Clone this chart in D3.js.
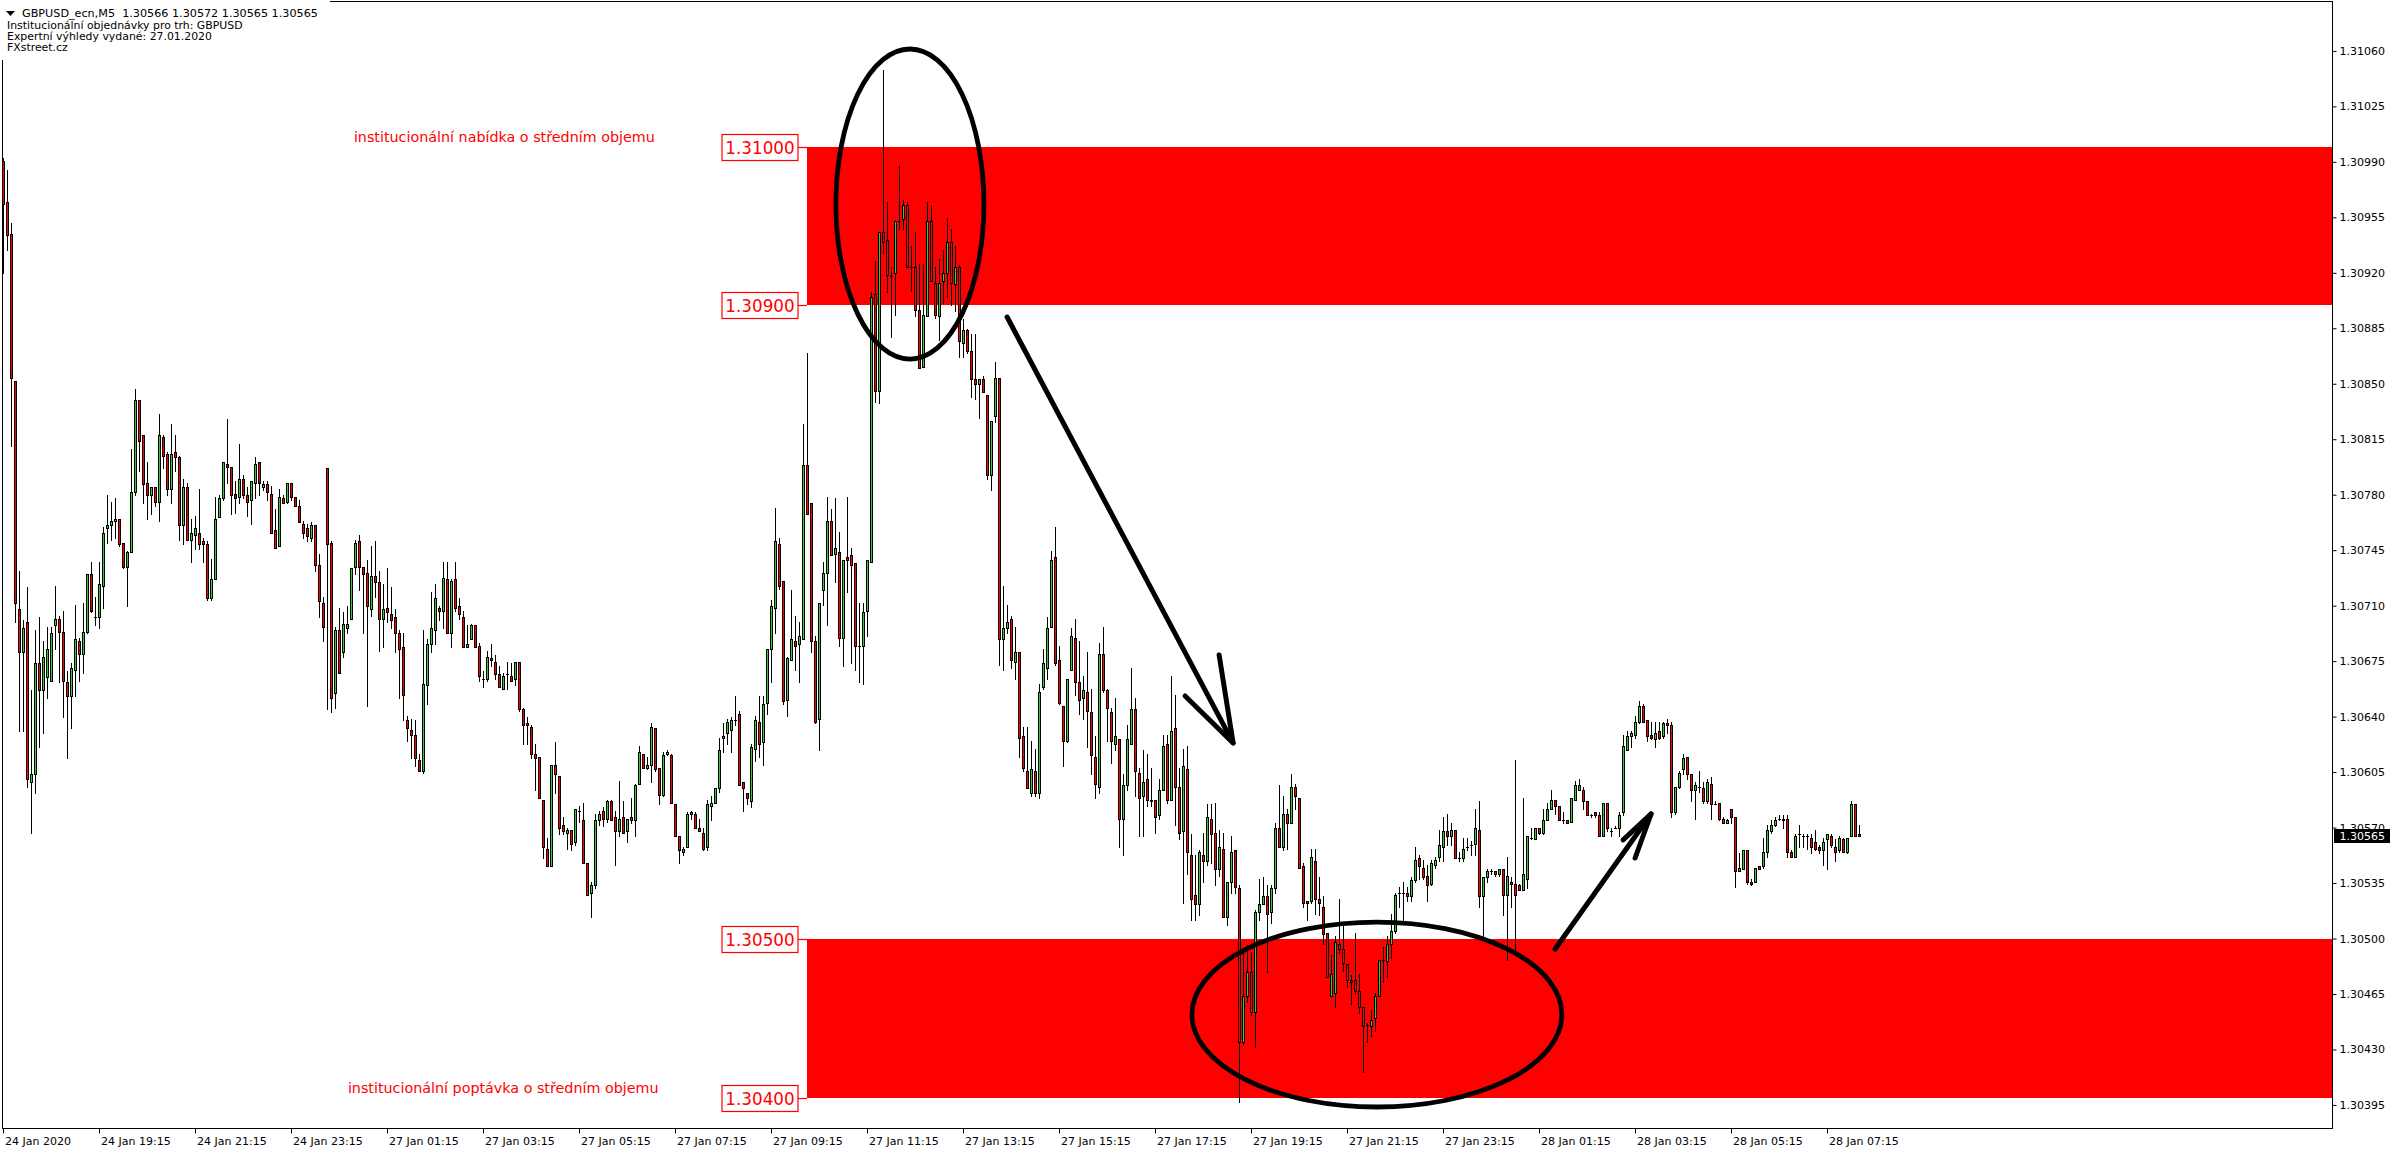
<!DOCTYPE html>
<html><head><meta charset="utf-8">
<script src="https://cdn.jsdelivr.net/npm/d3@7"></script>
<style>html,body{margin:0;padding:0;background:#fff;overflow:hidden}svg{display:block}</style>
</head><body>
<script>
// ===== DATA (GBPUSD_ecn M5) =====
const symbolTitle = "GBPUSD_ecn,M5";
const commentLines = ["Institucionální objednávky pro trh: GBPUSD", "Expertní výhledy vydané: 27.01.2020", "FXstreet.cz"];

const openP = [
1.30991,1.30965,1.30945,1.30852,1.30708,1.30681,1.30700,1.30599,1.30604,1.30674,
1.30657,1.30665,1.30663,1.30698,1.30702,1.30694,1.30662,1.30653,1.30670,1.30688,
1.30680,1.30694,1.30730,1.30703,1.30703,1.30723,1.30759,1.30761,1.30764,1.30765,
1.30750,1.30735,1.30744,1.30782,1.30840,1.30818,1.30788,1.30780,1.30785,1.30776,
1.30817,1.30806,1.30784,1.30807,1.30804,1.30761,1.30785,1.30752,1.30755,1.30756,
1.30751,1.30749,1.30715,1.30727,1.30766,1.30778,1.30800,1.30798,1.30781,1.30779,
1.30790,1.30780,1.30777,1.30788,1.30801,1.30785,1.30787,1.30781,1.30758,1.30748,
1.30778,1.30776,1.30788,1.30779,1.30773,1.30762,1.30759,1.30753,1.30761,1.30736,
1.30712,1.30797,1.30750,1.30655,1.30695,1.30681,1.30696,1.30702,1.30735,1.30751,
1.30735,1.30731,1.30708,1.30729,1.30725,1.30702,1.30709,1.30705,1.30703,1.30693,
1.30684,1.30638,1.30632,1.30629,1.30613,1.30606,1.30660,1.30686,1.30695,1.30709,
1.30707,1.30727,1.30693,1.30727,1.30710,1.30703,1.30684,1.30689,1.30698,1.30685,
1.30664,1.30664,1.30677,1.30675,1.30667,1.30658,1.30667,1.30666,1.30664,1.30675,
1.30645,1.30636,1.30634,1.30617,1.30615,1.30588,1.30557,1.30546,1.30610,1.30603,
1.30572,1.30567,1.30569,1.30561,1.30581,1.30575,1.30548,1.30529,1.30534,1.30575,
1.30581,1.30576,1.30587,1.30577,1.30568,1.30577,1.30568,1.30577,1.30575,1.30598,
1.30617,1.30608,1.30610,1.30633,1.30608,1.30591,1.30617,1.30616,1.30585,1.30565,
1.30555,1.30558,1.30579,1.30579,1.30570,1.30567,1.30558,1.30584,1.30586,1.30595,
1.30627,1.30630,1.30632,1.30638,1.30642,1.30599,1.30592,1.30587,1.30620,1.30637,
1.30624,1.30649,1.30683,1.30709,1.30749,1.30726,1.30651,1.30676,1.30688,1.30686,
1.30689,1.30799,1.30775,1.30688,1.30639,1.30720,1.30731,1.30764,1.30743,1.30744,
1.30690,1.30741,1.30742,1.30737,1.30685,1.30685,1.30707,1.30738,1.30907,1.30846,
1.30946,1.30941,1.30918,1.30920,1.30953,1.30954,1.30963,1.30924,1.30924,1.30897,
1.30861,1.30893,1.30953,1.30914,1.30893,1.30915,1.30920,1.30940,1.30913,1.30924,
1.30876,1.30884,1.30871,1.30853,1.30850,1.30853,1.30843,1.30793,1.30830,1.30854,
1.30689,1.30696,1.30702,1.30675,1.30681,1.30628,1.30606,1.30592,1.30606,1.30592,
1.30659,1.30671,1.30697,1.30741,1.30676,1.30647,1.30625,1.30670,1.30690,1.30662,
1.30652,1.30656,1.30643,1.30615,1.30596,1.30680,1.30657,1.30643,1.30623,1.30626,
1.30576,1.30597,1.30623,1.30645,1.30605,1.30590,1.30601,1.30588,1.30588,1.30578,
1.30594,1.30623,1.30588,1.30633,1.30596,1.30568,1.30607,1.30553,1.30528,1.30522,
1.30553,1.30549,1.30576,1.30567,1.30544,1.30557,1.30514,1.30536,1.30556,1.30532,
1.30435,1.30464,1.30479,1.30454,1.30517,1.30522,1.30527,1.30517,1.30532,1.30570,
1.30558,1.30579,1.30573,1.30596,1.30589,1.30546,1.30524,1.30524,1.30549,1.30525,
1.30520,1.30504,1.30464,1.30466,1.30497,1.30494,1.30484,1.30474,1.30474,1.30467,
1.30457,1.30446,1.30445,1.30450,1.30464,1.30487,1.30486,1.30497,1.30505,1.30529,
1.30529,1.30529,1.30527,1.30537,1.30551,1.30545,1.30540,1.30535,1.30547,1.30552,
1.30558,1.30568,1.30565,1.30569,1.30551,1.30551,1.30558,1.30559,1.30560,1.30569,
1.30527,1.30539,1.30543,1.30543,1.30541,1.30544,1.30528,1.30536,1.30535,1.30534,
1.30531,1.30538,1.30564,1.30563,1.30570,1.30567,1.30575,1.30582,1.30588,1.30584,
1.30575,1.30575,1.30574,1.30588,1.30594,1.30594,1.30587,1.30578,1.30580,1.30578,
1.30565,1.30586,1.30568,1.30570,1.30570,1.30580,1.30619,1.30628,1.30629,1.30637,
1.30647,1.30638,1.30629,1.30626,1.30631,1.30628,1.30636,1.30635,1.30580,1.30596,
1.30607,1.30615,1.30604,1.30594,1.30596,1.30595,1.30587,1.30598,1.30585,1.30586,
1.30576,1.30573,1.30582,1.30577,1.30543,1.30544,1.30556,1.30536,1.30536,1.30546,
1.30546,1.30555,1.30568,1.30572,1.30576,1.30576,1.30576,1.30555,1.30552,1.30566,
1.30565,1.30565,1.30564,1.30561,1.30558,1.30556,1.30563,1.30565,1.30558,1.30556,
1.30563,1.30555,1.30565,1.30585,1.30566];

const highP = [
1.30993,1.30985,1.30952,1.30852,1.30732,1.30701,1.30722,1.30657,1.30695,1.30703,
1.30688,1.30697,1.30697,1.30723,1.30704,1.30707,1.30669,1.30674,1.30711,1.30690,
1.30712,1.30730,1.30738,1.30716,1.30738,1.30760,1.30780,1.30776,1.30778,1.30765,
1.30750,1.30745,1.30809,1.30847,1.30840,1.30818,1.30801,1.30785,1.30785,1.30831,
1.30818,1.30807,1.30825,1.30818,1.30805,1.30790,1.30788,1.30765,1.30767,1.30784,
1.30753,1.30751,1.30740,1.30779,1.30780,1.30801,1.30828,1.30798,1.30789,1.30812,
1.30793,1.30785,1.30789,1.30804,1.30801,1.30789,1.30789,1.30786,1.30771,1.30784,
1.30780,1.30788,1.30788,1.30779,1.30777,1.30764,1.30762,1.30763,1.30761,1.30743,
1.30716,1.30797,1.30751,1.30697,1.30709,1.30706,1.30710,1.30734,1.30752,1.30755,
1.30735,1.30739,1.30748,1.30751,1.30732,1.30724,1.30734,1.30722,1.30708,1.30695,
1.30693,1.30641,1.30639,1.30638,1.30617,1.30695,1.30689,1.30719,1.30724,1.30710,
1.30738,1.30738,1.30727,1.30738,1.30715,1.30707,1.30698,1.30699,1.30698,1.30687,
1.30669,1.30682,1.30686,1.30679,1.30672,1.30668,1.30675,1.30674,1.30675,1.30675,
1.30646,1.30640,1.30635,1.30623,1.30615,1.30588,1.30564,1.30610,1.30624,1.30603,
1.30577,1.30570,1.30569,1.30582,1.30584,1.30586,1.30548,1.30536,1.30579,1.30581,
1.30583,1.30588,1.30588,1.30581,1.30600,1.30587,1.30576,1.30589,1.30598,1.30622,
1.30617,1.30615,1.30636,1.30633,1.30608,1.30618,1.30619,1.30617,1.30585,1.30565,
1.30558,1.30580,1.30581,1.30580,1.30576,1.30570,1.30588,1.30590,1.30595,1.30627,
1.30636,1.30639,1.30640,1.30653,1.30644,1.30599,1.30592,1.30623,1.30641,1.30653,
1.30653,1.30683,1.30714,1.30772,1.30753,1.30726,1.30678,1.30720,1.30704,1.30700,
1.30825,1.30870,1.30775,1.30691,1.30712,1.30738,1.30779,1.30771,1.30778,1.30757,
1.30739,1.30779,1.30747,1.30737,1.30712,1.30712,1.30739,1.30908,1.30928,1.30946,
1.31048,1.30965,1.30924,1.30953,1.30988,1.30966,1.30965,1.30937,1.30946,1.30926,
1.30926,1.30965,1.30963,1.30924,1.30929,1.30935,1.30955,1.30948,1.30937,1.30925,
1.30891,1.30885,1.30882,1.30882,1.30853,1.30855,1.30843,1.30827,1.30864,1.30854,
1.30723,1.30711,1.30704,1.30697,1.30681,1.30634,1.30634,1.30625,1.30620,1.30661,
1.30683,1.30703,1.30745,1.30760,1.30685,1.30647,1.30664,1.30696,1.30702,1.30688,
1.30666,1.30681,1.30658,1.30628,1.30687,1.30697,1.30658,1.30646,1.30652,1.30626,
1.30604,1.30635,1.30671,1.30652,1.30608,1.30619,1.30617,1.30608,1.30588,1.30601,
1.30629,1.30629,1.30666,1.30654,1.30608,1.30620,1.30622,1.30566,1.30553,1.30556,
1.30567,1.30585,1.30585,1.30586,1.30569,1.30567,1.30536,1.30565,1.30556,1.30534,
1.30491,1.30496,1.30492,1.30518,1.30538,1.30539,1.30534,1.30534,1.30573,1.30597,
1.30590,1.30582,1.30604,1.30598,1.30589,1.30548,1.30524,1.30557,1.30557,1.30539,
1.30527,1.30504,1.30490,1.30502,1.30525,1.30508,1.30484,1.30477,1.30504,1.30478,
1.30457,1.30447,1.30455,1.30466,1.30487,1.30495,1.30502,1.30516,1.30529,1.30533,
1.30536,1.30533,1.30539,1.30558,1.30553,1.30550,1.30547,1.30550,1.30552,1.30569,
1.30577,1.30579,1.30573,1.30569,1.30555,1.30564,1.30564,1.30562,1.30582,1.30587,
1.30539,1.30544,1.30544,1.30543,1.30544,1.30544,1.30552,1.30539,1.30613,1.30535,
1.30589,1.30565,1.30570,1.30570,1.30570,1.30582,1.30586,1.30594,1.30588,1.30584,
1.30580,1.30575,1.30589,1.30600,1.30601,1.30596,1.30587,1.30579,1.30580,1.30580,
1.30586,1.30586,1.30570,1.30571,1.30580,1.30629,1.30631,1.30631,1.30641,1.30650,
1.30648,1.30638,1.30637,1.30637,1.30637,1.30637,1.30639,1.30637,1.30596,1.30606,
1.30617,1.30615,1.30604,1.30599,1.30606,1.30599,1.30601,1.30602,1.30587,1.30586,
1.30577,1.30576,1.30582,1.30577,1.30554,1.30556,1.30556,1.30538,1.30545,1.30546,
1.30564,1.30572,1.30575,1.30577,1.30578,1.30578,1.30578,1.30556,1.30566,1.30572,
1.30566,1.30566,1.30566,1.30569,1.30559,1.30564,1.30566,1.30566,1.30563,1.30565,
1.30564,1.30564,1.30587,1.30585,1.30572];

const lowP = [
1.30920,1.30935,1.30811,1.30700,1.30631,1.30631,1.30596,1.30567,1.30592,1.30621,
1.30630,1.30652,1.30663,1.30683,1.30662,1.30640,1.30614,1.30633,1.30653,1.30663,
1.30668,1.30693,1.30706,1.30698,1.30696,1.30709,1.30750,1.30752,1.30753,1.30748,
1.30734,1.30710,1.30744,1.30780,1.30795,1.30775,1.30765,1.30768,1.30773,1.30764,
1.30797,1.30780,1.30775,1.30795,1.30752,1.30749,1.30752,1.30738,1.30746,1.30746,
1.30738,1.30714,1.30714,1.30727,1.30766,1.30777,1.30788,1.30768,1.30769,1.30775,
1.30778,1.30767,1.30762,1.30778,1.30780,1.30783,1.30777,1.30756,1.30747,1.30748,
1.30775,1.30775,1.30777,1.30773,1.30763,1.30753,1.30751,1.30751,1.30732,1.30703,
1.30688,1.30645,1.30643,1.30646,1.30668,1.30678,1.30693,1.30702,1.30730,1.30720,
1.30693,1.30647,1.30704,1.30716,1.30682,1.30684,1.30700,1.30696,1.30681,1.30652,
1.30638,1.30625,1.30614,1.30609,1.30606,1.30605,1.30648,1.30681,1.30686,1.30701,
1.30696,1.30693,1.30684,1.30707,1.30702,1.30684,1.30684,1.30689,1.30684,1.30663,
1.30659,1.30663,1.30672,1.30664,1.30659,1.30658,1.30658,1.30663,1.30660,1.30644,
1.30623,1.30623,1.30614,1.30594,1.30589,1.30551,1.30546,1.30546,1.30592,1.30566,
1.30566,1.30557,1.30556,1.30559,1.30574,1.30548,1.30528,1.30514,1.30532,1.30572,
1.30571,1.30574,1.30575,1.30547,1.30565,1.30567,1.30561,1.30573,1.30565,1.30598,
1.30608,1.30607,1.30599,1.30606,1.30585,1.30590,1.30616,1.30586,1.30565,1.30548,
1.30553,1.30558,1.30576,1.30570,1.30568,1.30556,1.30556,1.30575,1.30586,1.30593,
1.30618,1.30623,1.30618,1.30635,1.30597,1.30581,1.30585,1.30583,1.30612,1.30615,
1.30610,1.30642,1.30662,1.30693,1.30721,1.30648,1.30641,1.30676,1.30670,1.30662,
1.30689,1.30768,1.30681,1.30636,1.30619,1.30711,1.30698,1.30742,1.30725,1.30685,
1.30672,1.30719,1.30674,1.30670,1.30662,1.30661,1.30691,1.30738,1.30839,1.30838,
1.30933,1.30908,1.30880,1.30894,1.30948,1.30948,1.30924,1.30909,1.30893,1.30860,
1.30861,1.30893,1.30915,1.30892,1.30878,1.30901,1.30905,1.30900,1.30896,1.30867,
1.30867,1.30870,1.30842,1.30841,1.30829,1.30845,1.30790,1.30783,1.30826,1.30673,
1.30670,1.30693,1.30671,1.30664,1.30615,1.30606,1.30595,1.30590,1.30590,1.30589,
1.30658,1.30664,1.30697,1.30673,1.30648,1.30609,1.30624,1.30670,1.30654,1.30642,
1.30639,1.30621,1.30604,1.30589,1.30592,1.30656,1.30625,1.30611,1.30619,1.30558,
1.30553,1.30594,1.30623,1.30590,1.30565,1.30565,1.30584,1.30584,1.30567,1.30576,
1.30594,1.30586,1.30588,1.30572,1.30563,1.30523,1.30541,1.30512,1.30512,1.30515,
1.30536,1.30547,1.30548,1.30534,1.30540,1.30514,1.30509,1.30529,1.30529,1.30397,
1.30434,1.30460,1.30452,1.30432,1.30512,1.30522,1.30479,1.30510,1.30529,1.30558,
1.30556,1.30557,1.30573,1.30582,1.30545,1.30520,1.30512,1.30523,1.30516,1.30515,
1.30497,1.30476,1.30464,1.30457,1.30491,1.30480,1.30470,1.30459,1.30465,1.30453,
1.30416,1.30435,1.30439,1.30442,1.30464,1.30473,1.30476,1.30488,1.30504,1.30520,
1.30511,1.30524,1.30524,1.30536,1.30538,1.30538,1.30524,1.30534,1.30545,1.30549,
1.30549,1.30559,1.30559,1.30551,1.30549,1.30549,1.30556,1.30553,1.30553,1.30520,
1.30500,1.30536,1.30541,1.30540,1.30540,1.30515,1.30487,1.30520,1.30492,1.30531,
1.30531,1.30532,1.30563,1.30563,1.30566,1.30566,1.30575,1.30582,1.30579,1.30575,
1.30573,1.30573,1.30574,1.30588,1.30594,1.30582,1.30578,1.30577,1.30577,1.30565,
1.30565,1.30568,1.30565,1.30570,1.30565,1.30578,1.30619,1.30621,1.30627,1.30636,
1.30637,1.30625,1.30626,1.30621,1.30626,1.30627,1.30630,1.30577,1.30579,1.30595,
1.30604,1.30601,1.30587,1.30576,1.30593,1.30586,1.30586,1.30576,1.30585,1.30575,
1.30573,1.30573,1.30573,1.30533,1.30543,1.30544,1.30535,1.30534,1.30536,1.30544,
1.30545,1.30552,1.30567,1.30571,1.30575,1.30570,1.30552,1.30552,1.30552,1.30558,
1.30558,1.30557,1.30554,1.30556,1.30554,1.30547,1.30544,1.30558,1.30549,1.30555,
1.30555,1.30554,1.30565,1.30565,1.30565];

const closeP = [
1.30964,1.30944,1.30854,1.30712,1.30681,1.30696,1.30601,1.30604,1.30674,1.30657,
1.30678,1.30683,1.30693,1.30702,1.30694,1.30663,1.30653,1.30671,1.30689,1.30680,
1.30694,1.30730,1.30707,1.30703,1.30724,1.30756,1.30761,1.30764,1.30765,1.30749,
1.30735,1.30744,1.30782,1.30840,1.30814,1.30787,1.30780,1.30785,1.30776,1.30818,
1.30805,1.30784,1.30806,1.30804,1.30761,1.30785,1.30752,1.30756,1.30759,1.30749,
1.30749,1.30715,1.30727,1.30765,1.30778,1.30801,1.30798,1.30780,1.30778,1.30790,
1.30780,1.30776,1.30789,1.30800,1.30788,1.30787,1.30782,1.30756,1.30747,1.30779,
1.30775,1.30788,1.30779,1.30773,1.30763,1.30756,1.30754,1.30761,1.30736,1.30713,
1.30697,1.30749,1.30652,1.30695,1.30668,1.30699,1.30699,1.30734,1.30750,1.30735,
1.30730,1.30710,1.30729,1.30725,1.30702,1.30708,1.30706,1.30701,1.30693,1.30683,
1.30654,1.30633,1.30629,1.30614,1.30606,1.30661,1.30686,1.30696,1.30715,1.30707,
1.30728,1.30693,1.30726,1.30709,1.30705,1.30684,1.30686,1.30698,1.30684,1.30666,
1.30664,1.30678,1.30676,1.30667,1.30659,1.30666,1.30667,1.30663,1.30675,1.30645,
1.30635,1.30635,1.30617,1.30614,1.30589,1.30558,1.30546,1.30610,1.30604,1.30570,
1.30568,1.30569,1.30560,1.30582,1.30581,1.30548,1.30528,1.30534,1.30575,1.30579,
1.30576,1.30587,1.30575,1.30568,1.30576,1.30567,1.30576,1.30575,1.30597,1.30618,
1.30608,1.30610,1.30634,1.30607,1.30591,1.30616,1.30618,1.30586,1.30565,1.30556,
1.30557,1.30579,1.30580,1.30570,1.30568,1.30557,1.30585,1.30586,1.30595,1.30619,
1.30628,1.30637,1.30638,1.30638,1.30597,1.30595,1.30589,1.30621,1.30638,1.30623,
1.30648,1.30683,1.30710,1.30751,1.30723,1.30650,1.30677,1.30689,1.30685,1.30691,
1.30799,1.30768,1.30688,1.30637,1.30712,1.30731,1.30764,1.30742,1.30747,1.30690,
1.30739,1.30739,1.30736,1.30685,1.30685,1.30706,1.30739,1.30905,1.30846,1.30946,
1.30940,1.30919,1.30918,1.30953,1.30953,1.30963,1.30924,1.30924,1.30897,1.30860,
1.30894,1.30953,1.30915,1.30894,1.30914,1.30920,1.30940,1.30914,1.30924,1.30877,
1.30884,1.30871,1.30853,1.30850,1.30853,1.30845,1.30793,1.30827,1.30854,1.30689,
1.30696,1.30700,1.30676,1.30681,1.30627,1.30608,1.30595,1.30607,1.30592,1.30656,
1.30674,1.30696,1.30739,1.30674,1.30649,1.30625,1.30664,1.30691,1.30662,1.30651,
1.30657,1.30644,1.30616,1.30598,1.30680,1.30657,1.30646,1.30625,1.30628,1.30576,
1.30597,1.30626,1.30645,1.30606,1.30589,1.30599,1.30588,1.30587,1.30577,1.30594,
1.30622,1.30588,1.30631,1.30596,1.30567,1.30609,1.30555,1.30525,1.30522,1.30555,
1.30549,1.30577,1.30566,1.30544,1.30558,1.30514,1.30536,1.30555,1.30533,1.30435,
1.30464,1.30479,1.30454,1.30517,1.30522,1.30527,1.30516,1.30532,1.30570,1.30558,
1.30579,1.30573,1.30596,1.30590,1.30545,1.30523,1.30523,1.30552,1.30525,1.30523,
1.30503,1.30476,1.30478,1.30498,1.30494,1.30485,1.30474,1.30473,1.30467,1.30457,
1.30445,1.30446,1.30449,1.30464,1.30487,1.30487,1.30497,1.30505,1.30528,1.30529,
1.30529,1.30527,1.30537,1.30550,1.30546,1.30539,1.30534,1.30548,1.30550,1.30559,
1.30568,1.30565,1.30569,1.30551,1.30551,1.30557,1.30558,1.30559,1.30570,1.30527,
1.30539,1.30543,1.30543,1.30541,1.30544,1.30528,1.30540,1.30535,1.30528,1.30531,
1.30541,1.30565,1.30564,1.30570,1.30567,1.30575,1.30582,1.30588,1.30584,1.30575,
1.30575,1.30573,1.30589,1.30597,1.30597,1.30587,1.30578,1.30578,1.30578,1.30565,
1.30586,1.30570,1.30568,1.30570,1.30578,1.30622,1.30628,1.30630,1.30637,1.30647,
1.30637,1.30628,1.30627,1.30630,1.30627,1.30636,1.30635,1.30580,1.30596,1.30605,
1.30614,1.30604,1.30594,1.30597,1.30596,1.30587,1.30599,1.30585,1.30585,1.30576,
1.30573,1.30575,1.30577,1.30543,1.30545,1.30556,1.30536,1.30535,1.30545,1.30544,
1.30555,1.30569,1.30572,1.30575,1.30576,1.30575,1.30555,1.30552,1.30565,1.30566,
1.30565,1.30565,1.30558,1.30557,1.30556,1.30561,1.30566,1.30559,1.30555,1.30564,
1.30555,1.30564,1.30585,1.30565,1.30565];

// time-axis labels, one every 24 bars (2 hours of M5 bars)
const barsPerLabel = 24;
const timeLabels = ["24 Jan 2020","24 Jan 19:15","24 Jan 21:15","24 Jan 23:15","27 Jan 01:15","27 Jan 03:15",
  "27 Jan 05:15","27 Jan 07:15","27 Jan 09:15","27 Jan 11:15","27 Jan 13:15","27 Jan 15:15","27 Jan 17:15",
  "27 Jan 19:15","27 Jan 21:15","27 Jan 23:15","28 Jan 01:15","28 Jan 03:15","28 Jan 05:15","28 Jan 07:15"];
const priceTicks = [1.31060,1.31025,1.30990,1.30955,1.30920,1.30885,1.30850,1.30815,1.30780,1.30745,
  1.30710,1.30675,1.30640,1.30605,1.30570,1.30535,1.30500,1.30465,1.30430,1.30395];

// institutional order zones
const zoneTop = [1.31000, 1.30500];
const zoneBottom = [1.30900, 1.30400];
const zoneStartBar = [201, 201];
const zoneNames = ["institucionální nabídka o středním objemu", "institucionální poptávka o středním objemu"];
const zoneNamePrice = [1.31000, 1.30400];
const zoneNameBar = [87.6, 86.1];
const levelLabels = [1.31000, 1.30900, 1.30500, 1.30400];

// hand-drawn annotations in (bar, price) space
const ellipseBars = [[208.1, 245.1], [297.1, 389.6]];
const ellipsePrices = [[1.310615, 1.308659], [1.305107, 1.303940]];
const arrowStart = [[250.9, 1.308924], [387.9, 1.304937]];
const arrowTip = [[307.4, 1.306237], [411.9, 1.305789]];
const arrowHeadA = [[303.9, 1.306792], [404.9, 1.305625]];
const arrowHeadB = [[295.4, 1.306533], [407.9, 1.305511]];

// ===== DRAWING =====
const W = 2396, H = 1154;
const FONT = '"DejaVu Sans", Tahoma, Verdana, sans-serif';
const GREEN = '#33CC33', RED = '#FF0000';
const frame = {left: 2.5, right: 2332.5, top: 1.5, bottom: 1128.5};
const N = Math.min(openP.length, highP.length, lowP.length, closeP.length);

const svg = d3.select('body').append('svg').attr('width', W).attr('height', H)
  .style('font-family', FONT);
svg.append('rect').attr('width', W).attr('height', H).attr('fill', '#fff');

const x = d3.scaleLinear().domain([0, 100]).range([3.5, 403.5]);   // 4 px per bar
const y = d3.scaleLinear().domain([1.30400, 1.31000]).range([1097.5, 146.5]);

svg.append('clipPath').attr('id', 'plotclip').append('rect')
  .attr('x', frame.left).attr('y', frame.top)
  .attr('width', frame.right - frame.left).attr('height', frame.bottom - frame.top);
const plot = svg.append('g').attr('clip-path', 'url(#plotclip)');

// zones
const zones = d3.range(zoneTop.length).map(k => ({top: zoneTop[k], bot: zoneBottom[k], bar: zoneStartBar[k]}));
plot.selectAll('rect.zone').data(zones).join('rect').attr('class', 'zone')
  .attr('x', d => Math.round(x(d.bar) - 0.5)).attr('y', d => Math.round(y(d.top)))
  .attr('width', d => frame.right - Math.round(x(d.bar) - 0.5))
  .attr('height', d => Math.round(y(d.bot)) - Math.round(y(d.top)))
  .attr('fill', RED);

// candles
const bars = d3.range(N).map(i => ({i, o: openP[i], h: highP[i], l: lowP[i], c: closeP[i]}));
const cg = plot.append('g').attr('shape-rendering', 'crispEdges');
cg.selectAll('line.wick').data(bars).join('line').attr('class', 'wick')
  .attr('x1', d => x(d.i)).attr('x2', d => x(d.i))
  .attr('y1', d => Math.round(y(d.h))).attr('y2', d => Math.round(y(d.l)) + 1)
  .attr('stroke', '#000').attr('stroke-width', 1);
const bodyTop = d => Math.round(y(Math.max(d.o, d.c)));
const bodyBot = d => Math.round(y(Math.min(d.o, d.c)));
cg.selectAll('rect.body').data(bars.filter(d => bodyBot(d) - bodyTop(d) >= 1)).join('rect').attr('class', 'body')
  .attr('x', d => x(d.i) - 1).attr('y', d => bodyTop(d) + 0.5)
  .attr('width', 2).attr('height', d => bodyBot(d) - bodyTop(d))
  .attr('fill', d => d.c >= d.o ? GREEN : RED).attr('stroke', '#000').attr('stroke-width', 1);
cg.selectAll('line.doji').data(bars.filter(d => bodyBot(d) - bodyTop(d) < 1)).join('line').attr('class', 'doji')
  .attr('x1', d => x(d.i) - 1.5).attr('x2', d => x(d.i) + 1.5)
  .attr('y1', d => bodyTop(d) + 0.5).attr('y2', d => bodyTop(d) + 0.5)
  .attr('stroke', '#000');

// level price boxes
const boxRight = x(zoneStartBar[0]) - 9.5, boxW = 76, boxH = 26;
const lv = svg.append('g');
levelLabels.forEach(p => {
  const yy = Math.round(y(p)) + 0.5;
  lv.append('line').attr('x1', boxRight).attr('x2', x(zoneStartBar[0]) - 0.5).attr('y1', yy).attr('y2', yy)
    .attr('stroke', RED).attr('stroke-width', 1.2);
  lv.append('rect').attr('x', boxRight - boxW).attr('y', yy - boxH / 2).attr('width', boxW).attr('height', boxH)
    .attr('fill', '#fff').attr('stroke', RED).attr('stroke-width', 1.2);
  lv.append('text').attr('x', boxRight - boxW / 2).attr('y', yy).attr('dy', '0.36em')
    .attr('text-anchor', 'middle').attr('fill', RED).attr('font-size', '16.8px').text(p.toFixed(5));
});
zoneNames.forEach((t, k) => {
  svg.append('text').attr('x', x(zoneNameBar[k])).attr('y', y(zoneNamePrice[k]) - 5)
    .attr('fill', RED).attr('font-size', '14.3px').text(t);
});

// ellipses
const ann = svg.append('g').attr('fill', 'none').attr('stroke', '#000').attr('stroke-linecap', 'round').attr('stroke-linejoin', 'round');
ellipseBars.forEach((b, k) => {
  const x0 = x(b[0]), x1 = x(b[1]), y0 = y(ellipsePrices[k][0]), y1 = y(ellipsePrices[k][1]);
  ann.append('ellipse').attr('cx', (x0 + x1) / 2).attr('cy', (y0 + y1) / 2)
    .attr('rx', (x1 - x0) / 2).attr('ry', (y1 - y0) / 2).attr('stroke-width', 4.8);
});
// arrows
arrowStart.forEach((s, k) => {
  const P = d => [x(d[0]), y(d[1])];
  const line = d3.line();
  ann.append('path').attr('d', line([P(s), P(arrowTip[k])])).attr('stroke-width', 5);
  ann.append('path').attr('d', line([P(arrowHeadA[k]), P(arrowTip[k]), P(arrowHeadB[k])])).attr('stroke-width', 5);
});

// header (comment area has white background)
svg.append('rect').attr('x', 0).attr('y', 0).attr('width', 330).attr('height', 60).attr('fill', '#fff');
const last = bars[N - 1];
svg.append('path').attr('d', 'M6,11L15,11L10.5,16Z').attr('fill', '#000');
svg.append('text').attr('x', 22).attr('y', 17).attr('font-size', '11.2px').attr('xml:space', 'preserve')
  .text(symbolTitle + '\u00a0\u00a0' + [last.o, last.h, last.l, last.c].map(v => v.toFixed(5)).join(' '));
commentLines.forEach((t, k) => {
  svg.append('text').attr('x', 7).attr('y', 29 + 11 * k).attr('font-size', '10.9px').text(t);
});

// frame
const fr = svg.append('g').attr('stroke', '#000').attr('shape-rendering', 'crispEdges');
fr.append('line').attr('x1', frame.left).attr('x2', frame.left).attr('y1', 60).attr('y2', frame.bottom);
fr.append('line').attr('x1', 330).attr('x2', frame.right).attr('y1', frame.top).attr('y2', frame.top);
fr.append('line').attr('x1', frame.right).attr('x2', frame.right).attr('y1', frame.top).attr('y2', frame.bottom + 0.5);
fr.append('line').attr('x1', frame.left).attr('x2', frame.right).attr('y1', frame.bottom).attr('y2', frame.bottom);

// price axis
const yAxis = d3.axisRight(y).tickValues(priceTicks).tickFormat(d => d.toFixed(5)).tickSize(4).tickPadding(3).offset(0);
const ya = svg.append('g').attr('transform', `translate(${frame.right},0)`).call(yAxis);
ya.select('.domain').remove();
ya.selectAll('text').attr('font-family', FONT).attr('font-size', '11px').attr('fill', '#000');
ya.selectAll('line').attr('stroke', '#000');

// time axis
const labelBars = timeLabels.map((t, k) => k * barsPerLabel);
const xAxis = d3.axisBottom(x).tickValues(labelBars).tickFormat((d, k) => timeLabels[k]).tickSize(5).offset(0);
const xa = svg.append('g').attr('transform', `translate(0,${frame.bottom})`).call(xAxis);
xa.select('.domain').remove();
xa.selectAll('text').attr('font-family', FONT).attr('font-size', '11px').attr('fill', '#000')
  .attr('text-anchor', 'start').attr('x', 1.5).attr('y', 16).attr('dy', 0);
xa.selectAll('line').attr('stroke', '#000');

// current price marker
const ly = y(last.c);
svg.append('rect').attr('x', frame.right + 1.5).attr('y', Math.round(ly) - 7).attr('width', 56).attr('height', 14).attr('fill', '#000');
svg.append('text').attr('x', frame.right + 7).attr('y', ly).attr('dy', '0.36em').attr('fill', '#fff')
  .attr('font-size', '11px').text(last.c.toFixed(5));
</script>
</body></html>
